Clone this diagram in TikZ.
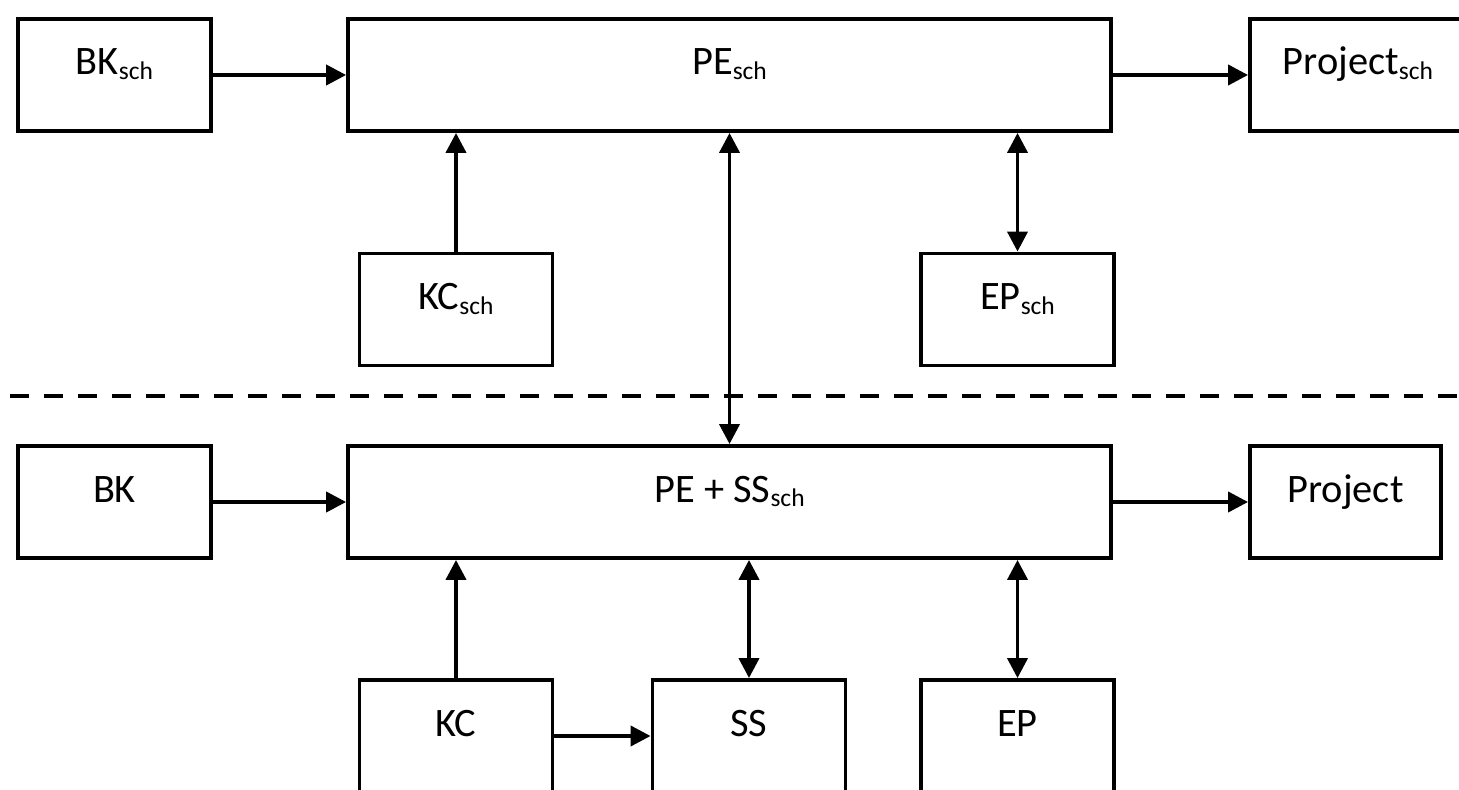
\documentclass[tikz,border=0pt]{standalone}
\usepackage{fontspec}
\setmainfont{Carlito}
\usepackage{tikz}
\usetikzlibrary{arrows.meta}

\newcommand{\lowsub}[1]{\raisebox{-0.12em}{\fontsize{14.5}{16}\selectfont #1}}

\begin{document}
\begin{tikzpicture}[
	x=0.02cm, y=-0.02cm,
	line width=0.078cm,
	block/.style = {draw, rectangle, minimum width=3.86cm, minimum height=2.24cm,
		text height=0.3cm, text depth=0.3cm, font=\fontsize{23}{27}\selectfont},
	wide/.style = {block, minimum width=15.26cm},
	arrow/.style = {-{Triangle[length=0.4cm, width=0.4cm]}},
	twoway/.style = {{Triangle[length=0.4cm, width=0.4cm]}-{Triangle[length=0.4cm, width=0.4cm]}},
	divider/.style = {dash pattern=on 0.38cm off 0.3cm}
	]
	\useasboundingbox (0,0) rectangle (1459,790);

	% schematic level
	\node[block] (BKsch) at (114.5,75) {BK\lowsub{sch}};
	\node[wide] (PEsch) at (729.5,75) {PE\lowsub{sch}};
	\node[block, minimum width=4.32cm] (Projsch) at (1358,75) {Project\lowsub{sch}};
	\node[block] (KCsch) at (456,309.5) {KC\lowsub{sch}};
	\node[block] (EPsch) at (1017.5,309.5) {EP\lowsub{sch}};

	\coordinate (divL) at (10,396);
	\coordinate (divR) at (1470,396);

	% detailed level
	\node[block] (BK) at (114.5,502) {BK};
	\node[wide] (PESS) at (729.5,502) {PE + SS\lowsub{sch}};
	\node[block, minimum width=3.82cm] (Proj) at (1345.5,502) {Project};
	\node[block] (KC) at (456,736) {KC};
	\node[block] (SS) at (749,736) {SS};
	\node[block] (EP) at (1017.5,736) {EP};

	\draw[arrow] (BKsch) -- (PEsch);
	\draw[arrow] (PEsch) -- (Projsch);
	\draw[arrow] (KCsch.north) -- (KCsch.north |- PEsch.south);
	\draw[twoway] (EPsch.north) -- (EPsch.north |- PEsch.south);
	\draw[twoway] (PEsch) -- (PESS);

	\draw[divider] (divL) -- (divR);

	\draw[arrow] (BK) -- (PESS);
	\draw[arrow] (PESS) -- (Proj);
	\draw[arrow] (KC.north) -- (KC.north |- PESS.south);
	\draw[twoway] (SS.north) -- (SS.north |- PESS.south);
	\draw[twoway] (EP.north) -- (EP.north |- PESS.south);
	\draw[arrow] (KC) -- (SS);
\end{tikzpicture}
\end{document}
